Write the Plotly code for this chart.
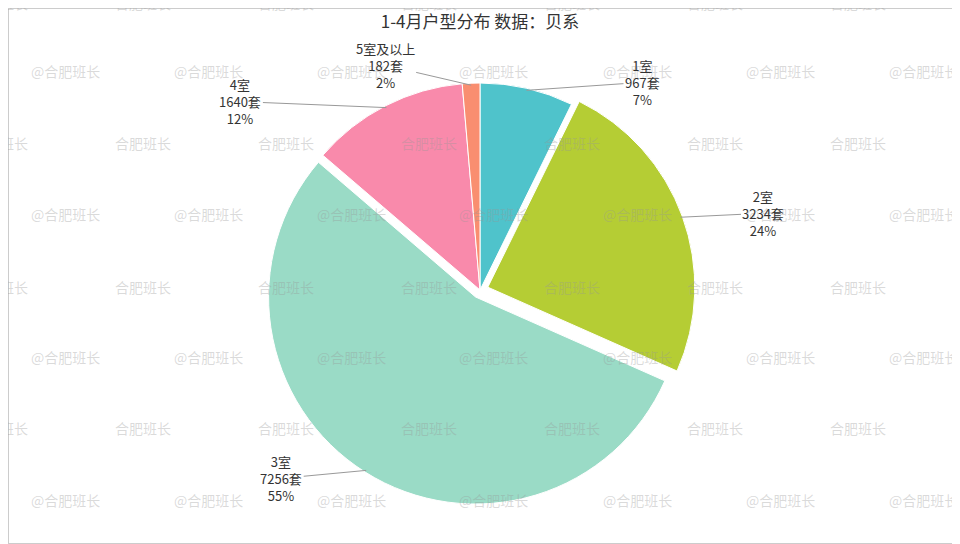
import math
import plotly.graph_objects as go

labels = ["1室", "2室", "3室", "4室", "5室及以上"]
values = [967, 3234, 7256, 1640, 182]
pcts = ["7%", "24%", "55%", "12%", "2%"]
colors = ["#4FC3CB", "#B5CD34", "#9ADBC6", "#F98AAB", "#F98E70"]
pulls = [0, 0.04, 0.04, 0, 0]
# label offsets (px) from slice edge to label
offsets = [(116, -8), (83, -4), (-85, 8), (-146, -6), (-86, -20)]

W, H = 952, 536
CY = 282.0
R = 207.0
dom_h = 2 * R * (1 + max(pulls)) / H
yc = 1 - CY / H
CX = W / 2 - 4

fig = go.Figure(go.Pie(
    labels=labels, values=values, sort=False, direction="clockwise",
    rotation=0, marker=dict(colors=colors, line=dict(color="white", width=1)),
    pull=pulls, textinfo="none", hoverinfo="label+value+percent", showlegend=False,
    domain=dict(x=[CX / W - 0.3, CX / W + 0.3], y=[yc - dom_h / 2, yc + dom_h / 2])))

ann = []
for r, y in enumerate([3, 71, 143, 214, 287, 357, 428, 500]):
    off = 65 if r % 2 == 1 else 0
    for c in range(8):
        x = off + c * 143 - 8
        ann.append(dict(x=x / W, y=1 - (y - 8) / H, xref="paper", yref="paper",
                        xanchor="center", yanchor="middle",
                        text="@合肥班长" if r % 2 else "合肥班长",
                        showarrow=False, font=dict(size=14, color="rgba(150,150,150,0.35)")))

total = sum(values)
cum = 0
for lab, v, p, pl, (ax, ay) in zip(labels, values, pcts, pulls, offsets):
    mid = (cum + v / 2) / total * 2 * math.pi
    cum += v
    rr = R * (1 + pl) - 2
    tx = CX + rr * math.sin(mid)
    ty = CY - rr * math.cos(mid)
    ann.append(dict(x=tx / W, y=1 - ty / H, xref="paper", yref="paper",
                    ax=ax, ay=ay, text=f"{lab}<br>{v}套<br>{p}", showarrow=True,
                    arrowhead=0, arrowwidth=1, arrowcolor="#999", align="center",
                    font=dict(size=13, color="#333")))

fig.update_layout(
    width=W, height=H, margin=dict(l=0, r=0, t=0, b=0),
    paper_bgcolor="white", font=dict(family="Noto Sans CJK SC"),
    title=dict(text="1-4月户型分布 数据：贝系", x=CX / W, y=1 - 14 / H, yanchor="middle",
               xanchor="center", font=dict(size=17, color="#333")),
    annotations=ann,
    shapes=[dict(type="rect", xref="paper", yref="paper", x0=0, y0=0, x1=1, y1=1,
                 line=dict(color="#ccc", width=2))])
fig.write_html("out.html")
